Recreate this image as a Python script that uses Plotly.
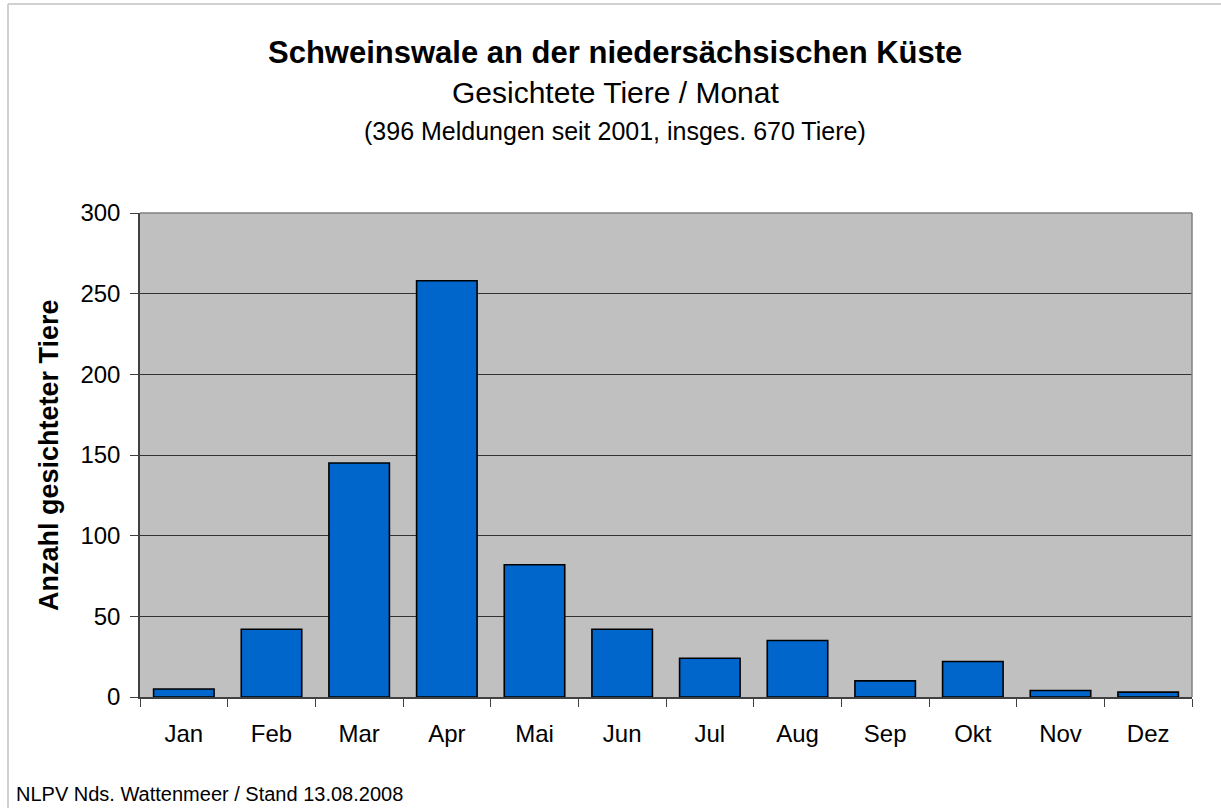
import plotly.graph_objects as go

months = ["Jan", "Feb", "Mar", "Apr", "Mai", "Jun", "Jul", "Aug", "Sep", "Okt", "Nov", "Dez"]
sightings = [5, 42, 145, 258, 82, 42, 24, 35, 10, 22, 4, 3]
y_ticks = [0, 50, 100, 150, 200, 250, 300]

title_main = "Schweinswale an der niedersächsischen Küste"
title_sub = "Gesichtete Tiere / Monat"
title_note = "(396 Meldungen seit 2001, insges. 670 Tiere)"
y_title = "Anzahl gesichteter Tiere"
footer = "NLPV Nds. Wattenmeer / Stand 13.08.2008"

W, H = 1221, 808
L, R, T, B = 140, 1192, 213, 697
FONT = "Liberation Sans, Arial, sans-serif"


def px(x):
    return (x - L) / (R - L)


def py(y):
    return (B - y) / (B - T)


fig = go.Figure(
    go.Bar(
        x=months,
        y=sightings,
        marker=dict(color="#0066CC", line=dict(color="#000000", width=1.6)),
        hoverinfo="x+y",
    )
)

fig.update_layout(
    width=W,
    height=H,
    margin=dict(l=L, r=W - R, t=T, b=H - B, pad=0),
    paper_bgcolor="#FFFFFF",
    plot_bgcolor="#C0C0C0",
    bargap=0.31,
    showlegend=False,
    font=dict(family=FONT, color="#000000", size=24),
)

fig.update_xaxes(
    type="category",
    showgrid=False,
    showline=True,
    linecolor="#404040",
    linewidth=1.5,
    ticks="outside",
    tickson="boundaries",
    ticklen=8,
    tickcolor="#404040",
    tickwidth=1.2,
    tickfont=dict(size=24, family=FONT),
    ticklabelstandoff=14,
)

fig.update_yaxes(
    range=[0, 300],
    tickvals=y_ticks,
    showgrid=True,
    gridcolor="#333333",
    gridwidth=1,
    zeroline=False,
    showline=True,
    linecolor="#404040",
    linewidth=1.5,
    ticks="outside",
    ticklen=8,
    tickcolor="#404040",
    tickwidth=1.2,
    tickfont=dict(size=24, family=FONT),
    ticklabelstandoff=5,
)

shapes = [
    # top and right border of plot area (gray)
    dict(type="line", xref="paper", yref="paper", x0=0, x1=1, y0=1, y1=1,
         line=dict(color="#808080", width=1.5)),
    dict(type="line", xref="paper", yref="paper", x0=1, x1=1, y0=0, y1=1,
         line=dict(color="#808080", width=1.5)),
    # outer frame (left and top)
    dict(type="line", xref="paper", yref="paper", x0=px(8), x1=px(8), y0=py(4), y1=py(820),
         line=dict(color="#D0D0D0", width=2)),
    dict(type="line", xref="paper", yref="paper", x0=px(8), x1=px(1240), y0=py(4), y1=py(4),
         line=dict(color="#D0D0D0", width=2)),
]
fig.update_layout(shapes=shapes)

annotations = [
    dict(text=f"<b>{title_main}</b>", x=px(615), y=py(52), font=dict(size=31, family=FONT)),
    dict(text=title_sub, x=px(615), y=py(92), font=dict(size=30, family=FONT)),
    dict(text=title_note, x=px(615), y=py(131), font=dict(size=25, family=FONT)),
    dict(text=f"<b>{y_title}</b>", x=px(49), y=py(455), textangle=-90, font=dict(size=27, family=FONT)),
    dict(text=footer, x=px(14), y=py(794), xanchor="left", font=dict(size=20, family=FONT)),
]
for a in annotations:
    a.setdefault("xanchor", "center")
    a.update(xref="paper", yref="paper", yanchor="middle", showarrow=False)
fig.update_layout(annotations=annotations)

fig.write_html(
    "out.html",
    config={"displayModeBar": False},
    post_script="document.body.style.margin='0';document.body.style.padding='0';",
)
